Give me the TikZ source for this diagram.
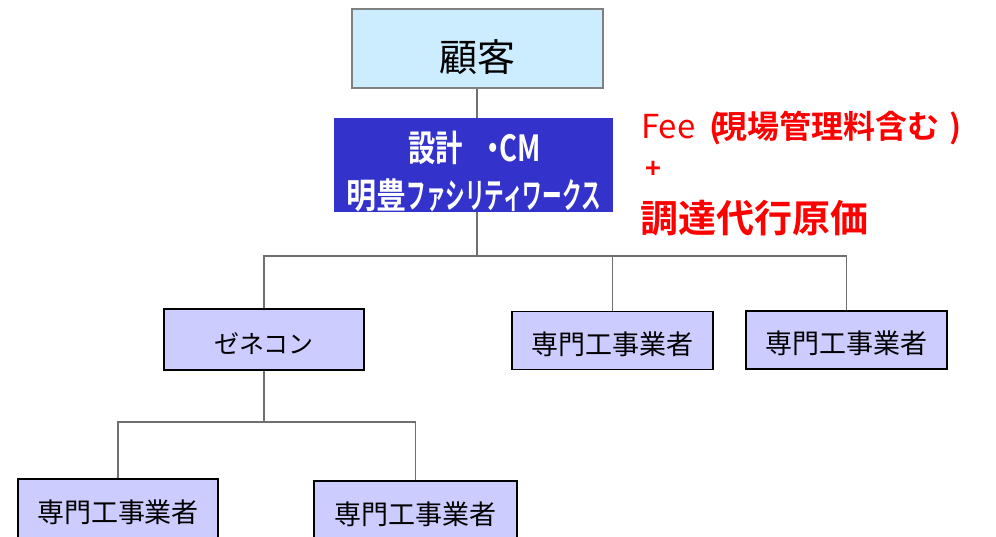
\documentclass[tikz,border=0pt]{standalone}
\usepackage{fontspec}
\usepackage{graphicx}
\setmainfont{Noto Sans CJK JP}[BoldFont={Noto Sans CJK JP Bold}]
\definecolor{custfill}{HTML}{CCECFF}
\definecolor{cmblue}{HTML}{3333CC}
\definecolor{subfill}{HTML}{CCCCFF}
\definecolor{linegray}{HTML}{707070}
\definecolor{boxgray}{HTML}{808080}
\definecolor{feered}{HTML}{FF0000}
\tikzset{
  subbox/.style={draw=black, line width=1.8pt, fill=subfill, inner sep=0pt,
    text height=27pt, text depth=0pt, font=\fontsize{27}{30}\selectfont},
  conn/.style={draw=linegray, line width=1.8pt},
  redtxt/.style={text=feered, inner sep=0pt}
}
\begin{document}
\begin{tikzpicture}[x=1pt, y=-1pt]
\useasboundingbox (0,0) rectangle (996,536);
% customer
\node[draw=boxgray, line width=1.8pt, fill=custfill, inner sep=0pt,
      minimum width=251pt, minimum height=79pt,
      text height=45pt, text depth=0pt, font=\fontsize{38}{40}\selectfont]
      (cust) at (477.5,48.5) {顧客};
% design / CM box
\node[fill=cmblue, inner sep=0pt, minimum width=279pt, minimum height=94pt]
      (cm) at (473.5,165) {};
\node[anchor=base, inner sep=0pt, text=white, font=\bfseries\fontsize{36}{38}\selectfont]
      (cmtop) at (474.5,161) {\scalebox{0.76}[1]{設計\hspace{22pt}・\hspace{-10pt}CM}};
\node[anchor=base, inner sep=0pt, text=white, font=\bfseries\fontsize{35}{38}\selectfont]
      (cmbot) at (473.5,208) {\scalebox{0.86}[1]{明豊}\scalebox{0.56}[1]{ファシリティワークス}};
% red annotation
\node[redtxt, anchor=base west] (fee) at (641,138)
      {\fontsize{33}{36}\selectfont Fee\hspace{14pt}\fontsize{32}{36}\selectfont\bfseries(\hspace{-6pt}現場管理料含む\hspace{10pt})};
\node[redtxt, anchor=center, font=\bfseries\fontsize{27}{28}\selectfont] (plus) at (653.5,170) {+};
\node[redtxt, anchor=base west, font=\bfseries\fontsize{38}{40}\selectfont] (cost) at (640,232) {調達代行原価};
% lower boxes
\node[subbox, minimum width=200pt, minimum height=61pt] (gen) at (264,339.5) {\fontsize{25}{28}\selectfont ゼネコン};
\node[subbox, minimum width=201pt, minimum height=58pt] (s1) at (612.5,340.5) {専門工事業者};
\node[subbox, minimum width=201pt, minimum height=58pt] (s2) at (846.5,340) {専門工事業者};
\node[subbox, minimum width=200pt, minimum height=60pt] (s3) at (118,509) {専門工事業者};
\node[subbox, minimum width=203pt, minimum height=60pt] (s4) at (415.5,511) {専門工事業者};
% connectors
\coordinate (bus) at (477,256);
\coordinate (bus2) at (264,422);
\draw[conn] (cust.south -| bus) -- (cm.north -| bus);
\draw[conn] (cm.south -| bus) -- (bus);
\draw[conn] (gen.north) -- (gen.north |- bus) -- (s2.north |- bus) -- (s2.north);
\draw[conn] (s1.north |- bus) -- (s1.north);
\draw[conn] (gen.south) -- (bus2);
\draw[conn] (s3.north) -- (s3.north |- bus2) -- (s4.north |- bus2) -- (s4.north);
\end{tikzpicture}
\end{document}
